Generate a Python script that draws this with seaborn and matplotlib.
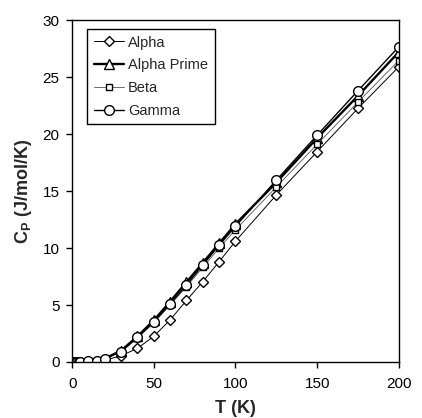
import matplotlib
matplotlib.use("Agg")
import matplotlib.pyplot as plt
import seaborn as sns
import pandas as pd

# temperatures (K)
T = [1, 2, 3, 4, 5, 10, 15, 20, 30, 40, 50, 60, 70, 80, 90, 100, 125, 150, 175, 200]

# heat capacity Cp (J/mol/K)
alpha = [0.0, 0.0, 0.0, 0.01, 0.01, 0.03, 0.07, 0.15, 0.55, 1.2, 2.25, 3.7, 5.4, 7.05, 8.8, 10.6,
         14.65, 18.45, 22.25, 25.9]
alpha_prime = [0.0, 0.0, 0.0, 0.01, 0.02, 0.05, 0.12, 0.3, 1.0, 2.25, 3.65, 5.3, 7.0, 8.7, 10.4, 12.1,
               15.75, 19.65, 23.35, 27.2]
beta = [0.0, 0.0, 0.0, 0.01, 0.02, 0.05, 0.1, 0.27, 0.9, 2.1, 3.45, 5.0, 6.6, 8.3, 10.0, 11.6,
        15.35, 19.1, 22.8, 26.45]
gamma = [0.0, 0.0, 0.0, 0.01, 0.02, 0.05, 0.11, 0.28, 0.92, 2.15, 3.5, 5.1, 6.75, 8.5, 10.25, 11.9,
         15.95, 19.9, 23.8, 27.65]

series = ["Alpha", "Alpha Prime", "Beta", "Gamma"]
values = [alpha, alpha_prime, beta, gamma]
markers = ["D", "^", "s", "o"]
msizes = [5.5, 6.5, 5, 7]
colors = ["black", "black", "#555555", "black"]
widths = [0.7, 1.7, 0.6, 1.0]

df = pd.concat([pd.DataFrame({"T": T, "Cp": v, "phase": s}) for s, v in zip(series, values)])

sns.set_style("ticks")
plt.rcParams["font.family"] = ["Liberation Sans", "DejaVu Sans"]
plt.rcParams["mathtext.fontset"] = "custom"
plt.rcParams["mathtext.rm"] = "Liberation Sans"
plt.rcParams["mathtext.bf"] = "Liberation Sans:bold"

fig = plt.figure(figsize=(4.22, 4.18), dpi=100)
ax = fig.add_axes([0.171, 0.134, 0.774, 0.818])

for s, m, ms, c, lw in zip(series, markers, msizes, colors, widths):
    sns.lineplot(data=df[df["phase"] == s], x="T", y="Cp", ax=ax, label=s,
                 color=c, linewidth=lw, marker=m, markersize=ms,
                 markerfacecolor="white", markeredgecolor="black", markeredgewidth=1.0)

ax.set_xlim(0, 200)
ax.set_ylim(0, 30)
ax.set_xticks([0, 50, 100, 150, 200])
ax.set_yticks([0, 5, 10, 15, 20, 25, 30])
ax.tick_params(labelsize=11, length=4, width=1, colors="black", direction="out")
ax.tick_params(axis="x", pad=7)
ax.tick_params(axis="y", pad=5)
for sp in ax.spines.values():
    sp.set_visible(True)
    sp.set_linewidth(1.0)
    sp.set_color("black")

ax.set_xlabel("T (K)", fontsize=13, fontweight="bold", labelpad=6)
ax.set_ylabel(r"$\mathbf{C_P}$ (J/mol/K)", fontsize=13, fontweight="bold", labelpad=6)

leg = ax.legend(loc="upper left", bbox_to_anchor=(0.046, 0.974), borderaxespad=0, fontsize=10.5,
                frameon=True, fancybox=False, framealpha=1, edgecolor="black",
                handlelength=2.1, borderpad=0.45, labelspacing=0.6, handletextpad=0.25)
leg.get_frame().set_linewidth(1.0)

fig.savefig("out.png", dpi=100)
